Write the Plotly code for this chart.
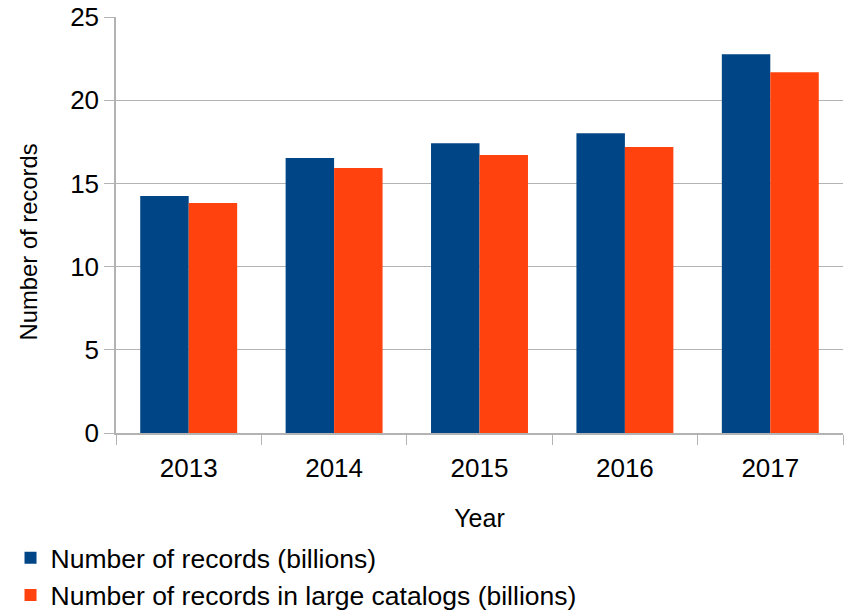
import plotly.graph_objects as go

years = ["2013", "2014", "2015", "2016", "2017"]
records = [14.24, 16.52, 17.42, 18.02, 22.76]
records_large = [13.82, 15.92, 16.70, 17.18, 21.68]

FONT = "Liberation Sans, Arial, sans-serif"

fig = go.Figure()
fig.add_trace(go.Bar(x=years, y=records, name="Number of records (billions)",
                     marker=dict(color="#004586", line=dict(width=0))))
fig.add_trace(go.Bar(x=years, y=records_large, name="Number of records in large catalogs (billions)",
                     marker=dict(color="#ff420e", line=dict(width=0))))

fig.update_layout(
    width=848, height=613,
    margin=dict(l=116, r=5, t=17, b=180, autoexpand=False),
    paper_bgcolor="white", plot_bgcolor="white",
    font=dict(family=FONT, size=26, color="black"),
    barmode="group", bargap=1/3, bargroupgap=0,
    showlegend=True,
    legend=dict(orientation="v", x=0.0124, xanchor="left", y=0.129, yanchor="top",
                xref="container", yref="container", font=dict(size=26.5),
                tracegroupgap=0, bgcolor="rgba(0,0,0,0)"),
    annotations=[dict(text="Number of records", xref="paper", yref="paper",
                      x=-0.1210, y=0.458, xanchor="center", yanchor="middle",
                      textangle=-90, showarrow=False,
                      font=dict(size=23.8, family=FONT, color="black"))],
)
fig.update_xaxes(
    title=dict(text="Year", font=dict(size=25), standoff=28),
    showline=True, linecolor="#b3b3b3", linewidth=1.5,
    ticks="outside", tickson="boundaries", ticklen=10, tickcolor="#b3b3b3",
    tickfont=dict(size=26), showgrid=False, automargin=True,
    ticklabelstandoff=11,
)
fig.update_yaxes(
    range=[0, 25], dtick=5,
    showline=True, linecolor="#b3b3b3", linewidth=1.5,
    ticks="outside", ticklen=10, tickcolor="#b3b3b3",
    showgrid=True, gridcolor="#b3b3b3", gridwidth=1,
    tickfont=dict(size=26), zeroline=False, automargin=True,
    ticklabeloverflow="allow",
)

fig.write_html("out.html", config={"displayModeBar": False},
               post_script="document.body.style.margin='0';")
